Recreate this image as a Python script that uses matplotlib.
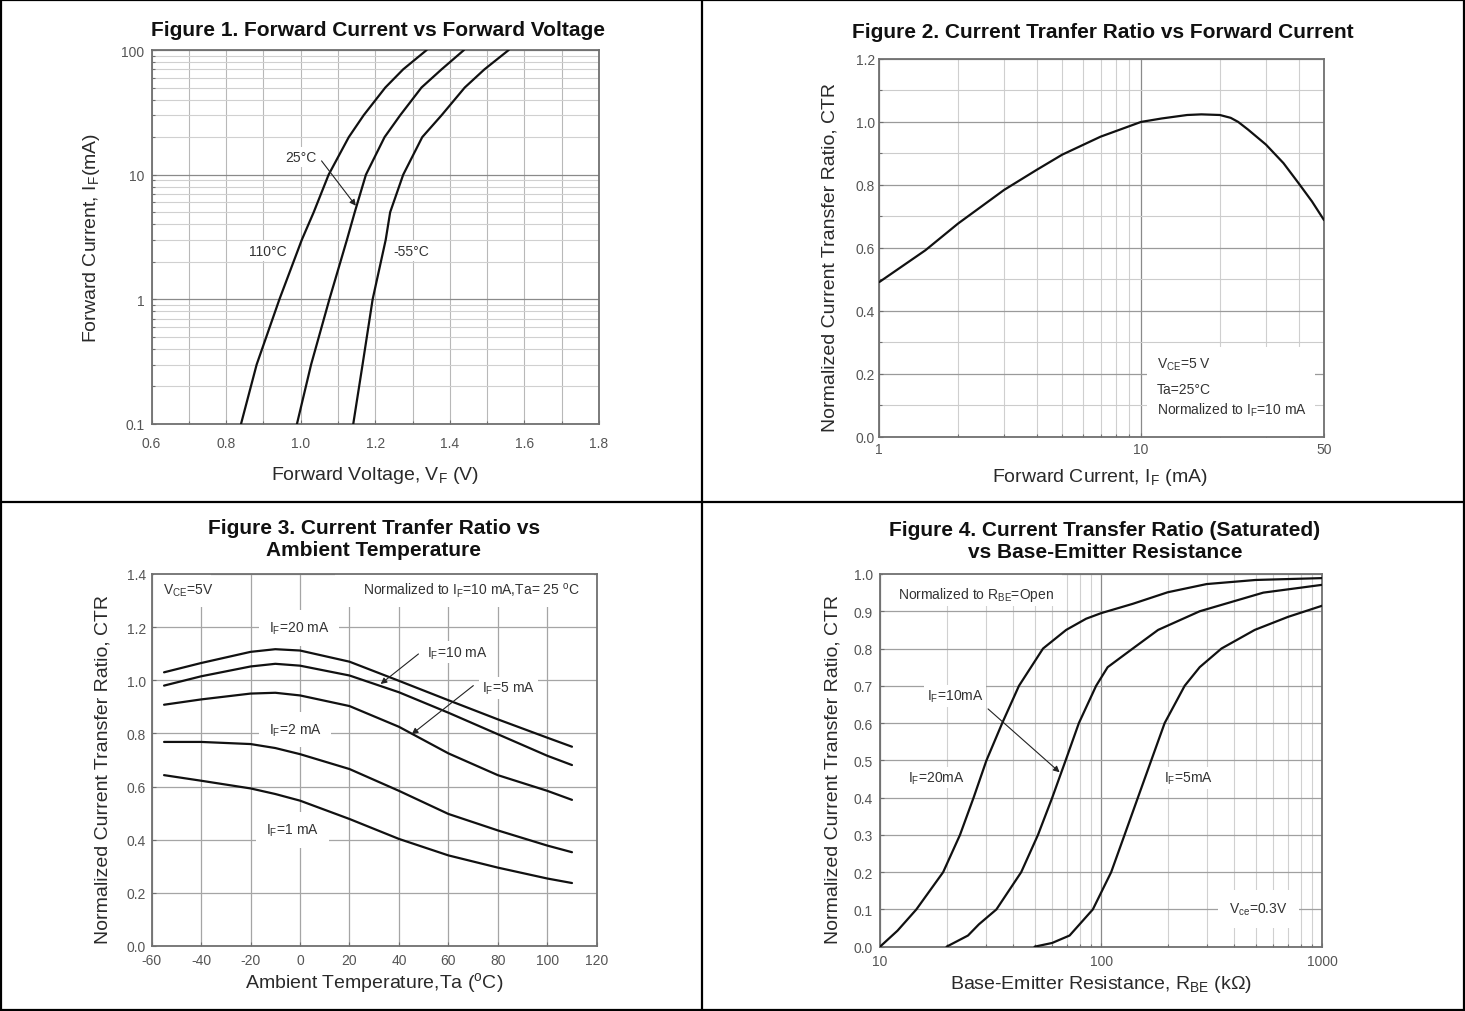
import matplotlib
matplotlib.use("Agg")
import matplotlib.pyplot as plt
from matplotlib.lines import Line2D
from matplotlib.patches import Rectangle
from matplotlib.ticker import LogLocator, NullFormatter

plt.rcParams['font.family'] = ['Liberation Sans', 'DejaVu Sans']
plt.rcParams['mathtext.default'] = 'regular'

# ---------------- data ----------------
# Figure 1: forward current (mA) vs forward voltage (V)
fig1_current = [0.1, 0.3, 1, 3, 5, 10, 20, 30, 50, 70, 100]
fig1_v_110c = [0.840, 0.882, 0.943, 1.003, 1.035, 1.075, 1.129, 1.169, 1.227, 1.275, 1.338]
fig1_v_25c = [0.990, 1.028, 1.077, 1.124, 1.145, 1.175, 1.225, 1.267, 1.324, 1.378, 1.438]
fig1_v_m55c = [1.141, 1.166, 1.193, 1.228, 1.240, 1.275, 1.326, 1.378, 1.440, 1.493, 1.558]
fig1_xticks = [0.6, 0.8, 1.0, 1.2, 1.4, 1.6, 1.8]
fig1_xticklabels = ['0.6', '0.8', '1.0', '1.2', '1.4', '1.6', '1.8']
fig1_xminor = [0.7, 0.9, 1.1, 1.3, 1.5, 1.7]
fig1_yticks = [0.1, 1, 10, 100]
fig1_yticklabels = ['0.1', '1', '10', '100']

# Figure 2: normalized CTR vs forward current (mA)
fig2_if = [1, 1.5, 2, 3, 4, 5, 7, 10, 12, 15, 17, 20, 22, 23.5, 25.6, 30, 35, 40, 45, 50]
fig2_ctr = [0.491, 0.592, 0.677, 0.784, 0.848, 0.896, 0.953, 1.0, 1.011, 1.022,
            1.024, 1.022, 1.013, 1.0, 0.976, 0.928, 0.869, 0.805, 0.747, 0.688]
fig2_xticks = [1, 10, 50]
fig2_xticklabels = ['1', '10', '50']
fig2_xminor = [2, 3, 4, 5, 6, 7, 8, 9, 20, 30, 40]
fig2_yticks = [0.0, 0.2, 0.4, 0.6, 0.8, 1.0, 1.2]
fig2_yticklabels = ['0.0', '0.2', '0.4', '0.6', '0.8', '1.0', '1.2']
fig2_yminor = [0.1, 0.3, 0.5, 0.7, 0.9, 1.1]

# Figure 3: normalized CTR vs ambient temperature (C)
fig3_temp = [-55, -40, -20, -10, 0, 20, 40, 60, 80, 100, 110]
fig3_if20 = [1.030, 1.065, 1.107, 1.117, 1.112, 1.070, 0.998, 0.925, 0.853, 0.784, 0.750]
fig3_if10 = [0.980, 1.015, 1.052, 1.062, 1.055, 1.018, 0.955, 0.878, 0.797, 0.716, 0.681]
fig3_if5 = [0.908, 0.928, 0.950, 0.953, 0.943, 0.903, 0.825, 0.725, 0.643, 0.584, 0.550]
fig3_if2 = [0.768, 0.768, 0.760, 0.745, 0.722, 0.666, 0.584, 0.497, 0.435, 0.378, 0.353]
fig3_if1 = [0.643, 0.622, 0.593, 0.572, 0.547, 0.478, 0.403, 0.341, 0.295, 0.254, 0.237]
fig3_xticks = [-60, -40, -20, 0, 20, 40, 60, 80, 100, 120]
fig3_xticklabels = ['-60', '-40', '-20', '0', '20', '40', '60', '80', '100', '120']
fig3_yticks = [0.0, 0.2, 0.4, 0.6, 0.8, 1.0, 1.2, 1.4]
fig3_yticklabels = ['0.0', '0.2', '0.4', '0.6', '0.8', '1.0', '1.2', '1.4']

# Figure 4: normalized CTR (saturated) vs base-emitter resistance (kOhm)
fig4_r_if20 = [10, 12, 14.6, 19.3, 23, 26.5, 30.3, 35.7, 42.5, 54.6, 69.5, 85.5, 100, 139, 200, 300, 500, 1000]
fig4_ctr_if20 = [0.0, 0.043, 0.1, 0.2, 0.3, 0.4, 0.5, 0.6, 0.7, 0.8, 0.85, 0.88, 0.895, 0.92, 0.951, 0.973, 0.984, 0.989]
fig4_r_if10 = [20, 25, 28, 33.6, 43.5, 51.8, 60.1, 69.1, 79.3, 94.9, 107, 139, 181, 279, 541, 1000]
fig4_ctr_if10 = [0.0, 0.03, 0.06, 0.1, 0.2, 0.3, 0.4, 0.5, 0.6, 0.7, 0.75, 0.8, 0.85, 0.9, 0.95, 0.971]
fig4_r_if5 = [50, 60, 72, 91.7, 111, 127.6, 146.6, 168.5, 193.7, 238.6, 279, 350, 495, 700, 1000]
fig4_ctr_if5 = [0.0, 0.01, 0.03, 0.1, 0.2, 0.3, 0.4, 0.5, 0.6, 0.7, 0.75, 0.8, 0.85, 0.885, 0.915]
fig4_xticks = [10, 100, 1000]
fig4_xticklabels = ['10', '100', '1000']
fig4_yticks = [0.0, 0.1, 0.2, 0.3, 0.4, 0.5, 0.6, 0.7, 0.8, 0.9, 1.0]
fig4_yticklabels = ['0.0', '0.1', '0.2', '0.3', '0.4', '0.5', '0.6', '0.7', '0.8', '0.9', '1.0']

# ---------------- layout helpers ----------------
W, H = 1465, 1012
fig = plt.figure(figsize=(W / 100, H / 100), dpi=100)
fig.patch.set_facecolor('white')


def pos(l, t, r, b):
    return [l / W, 1 - b / H, (r - l) / W, (b - t) / H]


def fx(x):
    return x / W


def fy(y):
    return 1 - y / H


TICK_C = '#555555'
LABEL_C = '#2a2a2a'
TITLE_C = '#111111'
TXT_C = '#333333'
CURVE_C = '#111111'
CURVE_LW = 1.6
TITLE_FS = 15
LABEL_FS = 14
TICK_FS = 10
ANN_FS = 10


def style(ax, xpad=4, ypad=4):
    for s in ax.spines.values():
        s.set_color('#707070')
        s.set_linewidth(1.3)
    ax.tick_params(which='both', direction='in', colors='#707070', labelcolor=TICK_C,
                   labelsize=TICK_FS, length=3, width=0.8)
    ax.tick_params(axis='x', pad=xpad)
    ax.tick_params(axis='y', pad=ypad)
    ax.tick_params(which='minor', length=2)
    ax.set_axisbelow(True)


def white_text(ax, x, y, s, pad=2.0, **kw):
    kw.setdefault('ha', 'center')
    kw.setdefault('va', 'center')
    ax.text(x, y, s, fontsize=ANN_FS, color=TXT_C, zorder=2.5,
            bbox=dict(facecolor='white', edgecolor='none', pad=pad), **kw)


def arrow(ax, start, tip):
    ax.annotate('', xy=tip, xytext=start, zorder=5,
                arrowprops=dict(arrowstyle='-|>', color='#222222', lw=0.8,
                                mutation_scale=9, shrinkA=0, shrinkB=0))


def curve(ax, x, y):
    ax.plot(x, y, color=CURVE_C, lw=CURVE_LW, zorder=3, solid_joinstyle='round',
            solid_capstyle='round')


# ---------------- Figure 1 ----------------
ax1 = fig.add_axes(pos(151.5, 51, 599, 425))
style(ax1, xpad=9, ypad=5)
ax1.set_yscale('log')
ax1.set_xlim(0.6, 1.8)
ax1.set_ylim(0.1, 100)
ax1.set_xticks(fig1_xticks, labels=fig1_xticklabels)
ax1.set_xticks(fig1_xminor, minor=True)
ax1.set_yticks(fig1_yticks, labels=fig1_yticklabels)
ax1.yaxis.set_minor_locator(LogLocator(base=10, subs=[2, 3, 4, 5, 6, 7, 8, 9]))
ax1.yaxis.set_minor_formatter(NullFormatter())
ax1.grid(which='both', axis='x', color='#b8b8b8', lw=0.8)
ax1.grid(which='major', axis='y', color='#8a8a8a', lw=0.9)
ax1.grid(which='minor', axis='y', color='#d0d0d0', lw=0.8)
for v in (fig1_v_110c, fig1_v_25c, fig1_v_m55c):
    curve(ax1, v, fig1_current)
white_text(ax1, 0.9125, 2.45, '110°C')
white_text(ax1, 1.297, 2.45, '-55°C')
white_text(ax1, 1.0, 13.9, '25°C')
arrow(ax1, (1.056, 12.9), (1.148, 5.63))

# ---------------- Figure 2 ----------------
ax2 = fig.add_axes(pos(879.3, 60, 1324, 437.5))
style(ax2, xpad=4, ypad=3)
ax2.set_xscale('log')
ax2.set_xlim(1, 50)
ax2.set_ylim(0, 1.2)
ax2.set_xticks(fig2_xticks, labels=fig2_xticklabels)
ax2.set_xticks(fig2_xminor, minor=True)
ax2.xaxis.set_minor_formatter(NullFormatter())
ax2.set_yticks(fig2_yticks, labels=fig2_yticklabels)
ax2.set_yticks(fig2_yminor, minor=True)
ax2.grid(which='major', axis='x', color='#8a8a8a', lw=0.9)
ax2.grid(which='minor', axis='x', color='#cfcfcf', lw=0.8)
ax2.grid(which='major', axis='y', color='#9a9a9a', lw=0.9)
ax2.grid(which='minor', axis='y', color='#cccccc', lw=0.8)
curve(ax2, fig2_if, fig2_ctr)
ax2.add_patch(Rectangle((10.5, 0.0), 46 - 10.5, 0.284, facecolor='white',
                        edgecolor='none', zorder=2))
ax2.text(11.5, 0.230, 'V$_{CE}$=5 V', fontsize=ANN_FS, color=TXT_C, va='center', zorder=4)
ax2.text(11.5, 0.150, 'Ta=25°C', fontsize=ANN_FS, color=TXT_C, va='center', zorder=4)
ax2.text(11.5, 0.088, 'Normalized to I$_F$=10 mA', fontsize=ANN_FS, color=TXT_C,
         va='center', zorder=4)

# ---------------- Figure 3 ----------------
ax3 = fig.add_axes(pos(151.7, 575, 596.7, 947))
style(ax3, xpad=5, ypad=4)
ax3.set_xlim(-60, 120)
ax3.set_ylim(0, 1.4)
ax3.set_xticks(fig3_xticks, labels=fig3_xticklabels)
ax3.set_yticks(fig3_yticks, labels=fig3_yticklabels)
ax3.grid(which='major', color='#a5a5a5', lw=0.9)
for c in (fig3_if20, fig3_if10, fig3_if5, fig3_if2, fig3_if1):
    curve(ax3, fig3_temp, c)
ax3.add_patch(Rectangle((-59, 1.275), 23, 0.125, facecolor='white', edgecolor='none', zorder=2))
ax3.add_patch(Rectangle((14, 1.275), 105, 0.125, facecolor='white', edgecolor='none', zorder=2))
ax3.text(-55.4, 1.34, 'V$_{CE}$=5V', fontsize=ANN_FS, color=TXT_C, va='center', zorder=4)
ax3.text(113.3, 1.34, 'Normalized to I$_F$=10 mA,Ta= 25 $^{o}$C', fontsize=ANN_FS,
         color=TXT_C, va='center', ha='right', zorder=4)
white_text(ax3, -0.5, 1.196, 'I$_F$=20 mA', pad=7)
white_text(ax3, 63.4, 1.105, 'I$_F$=10 mA', pad=2)
white_text(ax3, 84.3, 0.97, 'I$_F$=5 mA', pad=2)
white_text(ax3, -2.0, 0.815, 'I$_F$=2 mA', pad=7)
white_text(ax3, -3.0, 0.437, 'I$_F$=1 mA', pad=7)
arrow(ax3, (47.9, 1.099), (32.6, 0.986))
arrow(ax3, (70.1, 0.980), (45.2, 0.797))

# ---------------- Figure 4 ----------------
ax4 = fig.add_axes(pos(880, 575, 1322.3, 947.7))
style(ax4, xpad=5, ypad=5)
ax4.set_xscale('log')
ax4.set_xlim(10, 1000)
ax4.set_ylim(0, 1.0)
ax4.set_xticks(fig4_xticks, labels=fig4_xticklabels)
ax4.xaxis.set_minor_locator(LogLocator(base=10, subs=[2, 3, 4, 5, 6, 7, 8, 9]))
ax4.xaxis.set_minor_formatter(NullFormatter())
ax4.set_yticks(fig4_yticks, labels=fig4_yticklabels)
ax4.grid(which='major', axis='x', color='#8a8a8a', lw=0.9)
ax4.grid(which='minor', axis='x', color='#d0d0d0', lw=0.8)
ax4.grid(which='major', axis='y', color='#a0a0a0', lw=0.9)
curve(ax4, fig4_r_if20, fig4_ctr_if20)
curve(ax4, fig4_r_if10, fig4_ctr_if10)
curve(ax4, fig4_r_if5, fig4_ctr_if5)
ax4.add_patch(Rectangle((10.3, 0.914), 66.5 - 10.3, 0.085, facecolor='white',
                        edgecolor='none', zorder=2))
ax4.text(12.06, 0.946, 'Normalized to R$_{BE}$=Open', fontsize=ANN_FS, color=TXT_C,
         va='center', zorder=4)
white_text(ax4, 21.8, 0.673, 'I$_F$=10mA')
white_text(ax4, 18.0, 0.454, 'I$_F$=20mA')
white_text(ax4, 247, 0.452, 'I$_F$=5mA')
white_text(ax4, 513, 0.101, 'V$_{ce}$=0.3V', pad=8)
arrow(ax4, (30.8, 0.638), (64.9, 0.468))

# ---------------- titles & labels ----------------
fig.text(fx(378), fy(30), 'Figure 1. Forward Current vs Forward Voltage', ha='center',
         va='center', fontsize=TITLE_FS, fontweight='bold', color=TITLE_C)
fig.text(fx(1103), fy(32), 'Figure 2. Current Tranfer Ratio vs Forward Current', ha='center',
         va='center', fontsize=TITLE_FS, fontweight='bold', color=TITLE_C)
fig.text(fx(374), fy(540), 'Figure 3. Current Tranfer Ratio vs\nAmbient Temperature',
         ha='center', va='center', fontsize=TITLE_FS, fontweight='bold', color=TITLE_C,
         linespacing=1.2)
fig.text(fx(1105), fy(542), 'Figure 4. Current Transfer Ratio (Saturated)\nvs Base-Emitter Resistance',
         ha='center', va='center', fontsize=TITLE_FS, fontweight='bold', color=TITLE_C,
         linespacing=1.2)

fig.text(fx(375), fy(476), 'Forward Voltage, V$_F$ (V)', ha='center', va='center',
         fontsize=LABEL_FS, color=LABEL_C)
fig.text(fx(92), fy(238), 'Forward Current, I$_F$(mA)', ha='center', va='center',
         rotation=90, fontsize=LABEL_FS, color=LABEL_C)
fig.text(fx(1100), fy(477), 'Forward Current, I$_F$ (mA)', ha='center', va='center',
         fontsize=LABEL_FS, color=LABEL_C)
fig.text(fx(830), fy(257), 'Normalized Current Transfer Ratio, CTR', ha='center', va='center',
         rotation=90, fontsize=LABEL_FS, color=LABEL_C)
fig.text(fx(374), fy(983), 'Ambient Temperature,Ta ($^{o}$C)', ha='center', va='center',
         fontsize=LABEL_FS, color=LABEL_C)
fig.text(fx(103), fy(769), 'Normalized Current Transfer Ratio, CTR', ha='center', va='center',
         rotation=90, fontsize=LABEL_FS, color=LABEL_C)
fig.text(fx(1101), fy(985), 'Base-Emitter Resistance, R$_{BE}$ (kΩ)', ha='center', va='center',
         fontsize=LABEL_FS, color=LABEL_C)
fig.text(fx(833), fy(769), 'Normalized Current Transfer Ratio, CTR', ha='center', va='center',
         rotation=90, fontsize=LABEL_FS, color=LABEL_C)

# ---------------- panel frame ----------------
FRAME_LW = 1.6
for (x0, y0, x1, y1) in [(1, 1, 1464, 1), (1, 1011, 1464, 1011), (1, 1, 1, 1011),
                         (1464, 1, 1464, 1011), (702, 1, 702, 1011), (1, 502.5, 1464, 502.5)]:
    fig.add_artist(Line2D([fx(x0), fx(x1)], [fy(y0), fy(y1)], color='black',
                          lw=FRAME_LW, transform=fig.transFigure))

fig.savefig('out.png', dpi=100, facecolor='white')
